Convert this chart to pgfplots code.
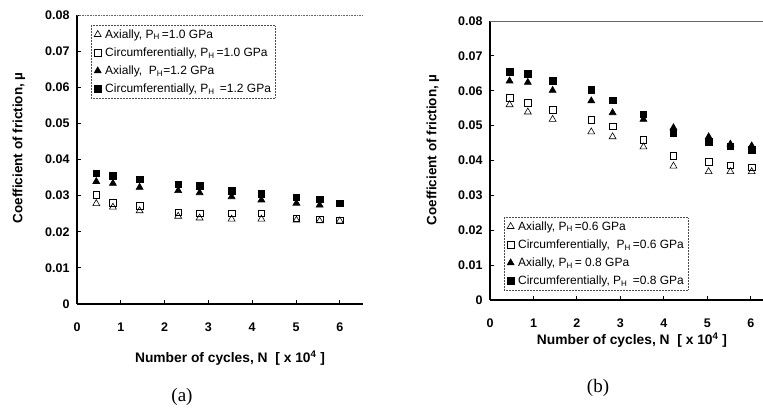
\documentclass[border=0pt]{standalone}
\usepackage{pgfplots}
\pgfplotsset{compat=1.18}
\usepackage{pgfplotstable}
\usepackage{fontspec}
\setmainfont{Liberation Sans}
\newfontfamily\capfont{Liberation Serif}

% panel (a): P_H = 1.0 and 1.2 GPa
\pgfplotstableread{
N    ax10   ci10   ax12   ci12
0.44 0.0278 0.0302 0.0339 0.0362
0.82 0.0268 0.0280 0.0334 0.0355
1.43 0.0258 0.0272 0.0323 0.0345
2.31 0.0243 0.0254 0.0314 0.0331
2.80 0.0238 0.0251 0.0308 0.0328
3.53 0.0235 0.0251 0.0297 0.0314
4.21 0.0235 0.0251 0.0288 0.0305
5.01 0.0232 0.0237 0.0279 0.0295
5.54 0.0230 0.0235 0.0274 0.0290
6.00 0.0230 0.0232 0.0275 0.0279
}\dataA

% panel (b): P_H = 0.6 and 0.8 GPa
\pgfplotstableread{
N    ax06   ci06   ax08   ci08
0.45 0.0560 0.0580 0.0628 0.0655
0.87 0.0539 0.0565 0.0624 0.0649
1.44 0.0518 0.0546 0.0601 0.0628
2.33 0.0482 0.0516 0.0571 0.0603
2.82 0.0468 0.0498 0.0537 0.0573
3.53 0.0439 0.0460 0.0518 0.0533
4.22 0.0384 0.0413 0.0494 0.0480
5.03 0.0368 0.0396 0.0468 0.0453
5.53 0.0368 0.0386 0.0447 0.0441
6.02 0.0368 0.0380 0.0442 0.0430
}\dataB

\pgfplotsset{
  friction/.style={
    scale only axis, xmin=0, ymin=0, ymax=0.08,
    axis lines*=left, axis line style={-, line width=1.1pt},
    xtick={0,1,2,3,4,5,6},
    ytick={0,0.01,0.02,0.03,0.04,0.05,0.06,0.07,0.08},
    yticklabels={0,0.01,0.02,0.03,0.04,0.05,0.06,0.07,0.08},
    scaled y ticks=false,
    /pgf/number format/assume math mode=true,
    tick label style={font=\fontsize{12.5}{14}\selectfont\bfseries},
    xticklabel style={yshift=-15pt},
    yticklabel style={xshift=-4pt},
    tick align=inside, major tick length=4pt, tick style={line width=0.9pt, black},
    xlabel style={font=\fontsize{13.8}{15}\selectfont\bfseries},
    ylabel style={font=\fontsize{13.5}{15}\selectfont\bfseries},
    legend cell align=left,
    legend style={draw=black!70, densely dotted, line width=0.5pt,
      font=\fontsize{12}{13.5}\selectfont, inner sep=3pt, row sep=6pt,
      column sep=3pt, nodes={inner sep=1pt}},
  },
  mk/.style={only marks, mark=#1, mark options={solid, black, line width=0.6pt}},
}

\begin{document}
\begin{tikzpicture}[x=1pt,y=1pt]
\path[use as bounding box] (0,0) rectangle (763,417);

\begin{axis}[friction, at={(77pt,113pt)}, anchor=south west,
  width=286pt, height=289pt, xmax=6.53,
  xlabel={Number of cycles, N\ \ [ x 10\textsuperscript{4} ]},
  ylabel={Coefficient of friction, µ},
  xlabel style={at={(axis description cs:0.535,-0.187)}, anchor=center},
  ylabel style={at={(axis description cs:-0.203,0.54)}, anchor=center},
  legend style={at={(axis description cs:0.049,0.965)}, anchor=north west}]
\addplot[mk=triangle, mark size=4pt] table[x=N, y=ax10] {\dataA};
\addlegendentry{Axially, P\textsubscript{H}\,=1.0 GPa}
\addplot[mk=square, mark size=3.3pt] table[x=N, y=ci10] {\dataA};
\addlegendentry{Circumferentially, P\textsubscript{H}\,=1.0 GPa}
\addplot[mk=triangle*, mark size=4pt] table[x=N, y=ax12] {\dataA};
\addlegendentry{Axially,\ \ P\textsubscript{H}=1.2 GPa}
\addplot[mk=square*, mark size=3.3pt] table[x=N, y=ci12] {\dataA};
\addlegendentry{Circumferentially, P\textsubscript{H}\ \,=1.2 GPa}
\draw[black!60, densely dotted, line width=0.6pt]
  (rel axis cs:0,1) -- (rel axis cs:1,1) -- (rel axis cs:1,0);
\end{axis}

\begin{axis}[friction, at={(490pt,117pt)}, anchor=south west,
  width=273pt, height=279pt, xmax=6.28,
  xlabel={Number of cycles, N\ \ [ x 10\textsuperscript{4} ]},
  ylabel={Coefficient of friction, µ},
  xlabel style={at={(axis description cs:0.52,-0.143)}, anchor=center},
  ylabel style={at={(axis description cs:-0.209,0.538)}, anchor=center},
  legend style={at={(axis description cs:0.051,0.297)}, anchor=north west}]
\addplot[mk=triangle, mark size=4pt] table[x=N, y=ax06] {\dataB};
\addlegendentry{Axially,\ P\textsubscript{H}\,=0.6 GPa}
\addplot[mk=square, mark size=3.3pt] table[x=N, y=ci06] {\dataB};
\addlegendentry{Circumferentially,\ \ P\textsubscript{H}\,=0.6 GPa}
\addplot[mk=triangle*, mark size=4pt] table[x=N, y=ax08] {\dataB};
\addlegendentry{Axially,\ P\textsubscript{H}\,= 0.8 GPa}
\addplot[mk=square*, mark size=3.3pt] table[x=N, y=ci08] {\dataB};
\addlegendentry{Circumferentially, P\textsubscript{H}\ \,=0.8 GPa}
\draw[black!60, line width=0.6pt] (rel axis cs:0,1) -- (rel axis cs:1,1);
\end{axis}

\node[font=\capfont\fontsize{19}{21}\selectfont] at (182,20) {(a)};
\node[font=\capfont\fontsize{19}{21}\selectfont] at (598,29) {(b)};
\end{tikzpicture}
\end{document}
